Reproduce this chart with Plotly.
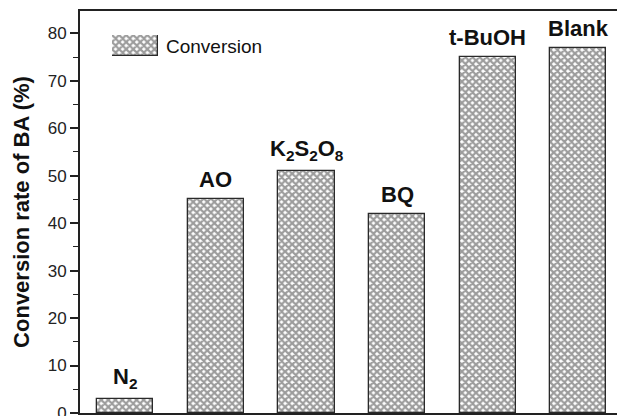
import plotly.graph_objects as go

# Scavenger experiment: conversion of BA under each quencher
categories = ["N2", "AO", "K2S2O8", "BQ", "t-BuOH", "Blank"]
bar_labels = ["N<sub>2</sub>", "AO", "K<sub>2</sub>S<sub>2</sub>O<sub>8</sub>", "BQ", "t-BuOH", "Blank"]
conversion = [3, 45, 51, 42, 75, 77]
y_ticks = [0, 10, 20, 30, 40, 50, 60, 70, 80]

W, H = 617, 416
ML, MR, MT, MB = 80, 0, 11, 3

pattern = dict(shape="x", size=5, solidity=0.7, fgcolor="#3a3a3a", bgcolor="white")
line = dict(color="#2a2a2a", width=1.3)
font = "Liberation Sans, Arial"

fig = go.Figure()
fig.add_trace(go.Bar(
    x=list(range(len(categories))), y=conversion, width=0.62,
    marker=dict(color="white", pattern=pattern, line=line),
    showlegend=False, hoverinfo="skip",
))

# legend swatch drawn as a single bar in a small inset axis
fig.add_trace(go.Bar(
    x=[0], y=[1], width=1, xaxis="x2", yaxis="y2",
    marker=dict(color="white", pattern=pattern, line=line),
    showlegend=False, hoverinfo="skip",
))

for i, (lab, v) in enumerate(zip(bar_labels, conversion)):
    fig.add_annotation(x=i, y=v, text=f"<b>{lab}</b>", showarrow=False,
                       yanchor="bottom", yshift=5,
                       font=dict(family=font, size=22, color="#111111"))

pw = W - ML - MR
ph = H - MT - MB
def fx(px):
    return (px - ML) / pw
def fy(py):
    return (H - MB - py) / ph

fig.add_annotation(xref="paper", yref="paper", x=fx(164), y=fy(46), text="Conversion",
                   showarrow=False, xanchor="left", yanchor="middle",
                   font=dict(family=font, size=19, color="#111111"))

fig.update_layout(
    width=W, height=H,
    margin=dict(l=ML, r=MR, t=MT, b=MB, autoexpand=False),
    paper_bgcolor="white", plot_bgcolor="white",
    bargap=0,
    xaxis=dict(range=[-0.5, -0.5 + pw / 90.6], showticklabels=False, ticks="",
               showgrid=False, zeroline=False, showline=True, linecolor="#222222",
               linewidth=2, mirror=True, fixedrange=True, automargin=False),
    yaxis=dict(range=[0, ph / 4.746], tickvals=y_ticks, ticks="outside", ticklen=8,
               tickwidth=1.5, tickcolor="#222222", showgrid=False, zeroline=False,
               showline=True, linecolor="#222222", linewidth=2,
               ticklabeloverflow="allow", automargin=False,
               minor=dict(ticks="outside", ticklen=5, tickwidth=1.3, dtick=5, tickcolor="#222222"),
               tickfont=dict(family=font, size=17, color="#222222"),
               title=dict(text="<b>Conversion rate of BA (%)</b>", standoff=12,
                          font=dict(family=font, size=22, color="#111111"))),
    xaxis2=dict(domain=[fx(112), fx(158)], range=[-0.5, 0.5], visible=False, anchor="y2"),
    yaxis2=dict(domain=[fy(56), fy(35)], range=[0, 1], visible=False, anchor="x2"),
)

fig.write_html("out.html")
